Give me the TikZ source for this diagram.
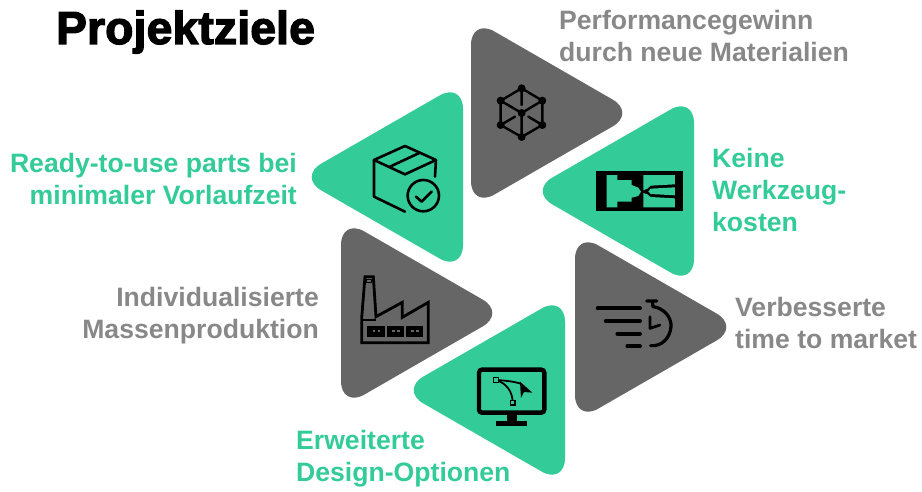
\documentclass[tikz,border=0pt]{standalone}
\usepackage{fontspec}
\setmainfont{Liberation Sans}
\newfontfamily\ttlfont[UprightFont=* Bold,FakeBold=3,LetterSpace=0.6]{Liberation Sans}
\definecolor{grn}{HTML}{33CC99}
\definecolor{drk}{HTML}{666666}
\definecolor{txg}{HTML}{888888}
\tikzset{
  tri/.style={rounded corners=27pt},
  lbl/.style={font=\bfseries\fontsize{26.6}{32}\selectfont,inner sep=0pt},
  ico/.style={line width=2.4pt,line cap=round,line join=round,draw=black},
  crop/.style={shift={#1},x=0.3333pt,y=-0.3333pt}
}
\begin{document}
\begin{tikzpicture}[x=1pt,y=-1pt]
\useasboundingbox (0,0) rectangle (922,491);
% triangles
\fill[drk,tri] (471,18) -- (636,113) -- (471,208) -- cycle;
\fill[grn,tri] (694,96) -- (694,286) -- (529,191) -- cycle;
\fill[drk,tri] (575,232) -- (740,327) -- (575,422) -- cycle;
\fill[grn,tri] (565,295) -- (565,485) -- (400,390) -- cycle;
\fill[drk,tri] (341,218) -- (506,313) -- (341,408) -- cycle;
\fill[grn,tri] (463,82) -- (463,272) -- (298,177) -- cycle;
% title
\node[inner sep=0pt,anchor=west] (title) at (56,32) {\ttlfont\fontsize{46}{50}\selectfont Projektziele};
% labels
\node[lbl,text=txg,align=left,anchor=west] (perf) at (559,36) {Performancegewinn\\durch neue Materialien};
\node[lbl,text=grn,align=left,anchor=west] (keine) at (712,190) {Keine\\Werkzeug-\\kosten};
\node[lbl,text=txg,align=left,anchor=west] (time) at (735,323) {Verbesserte\\time to market};
\node[lbl,text=grn,align=left,anchor=west] (design) at (296,459) {Erweiterte\\Design-Optionen};
\node[lbl,text=txg,align=right,anchor=east] (indiv) at (319,316) {Individualisierte\\Massenproduktion};
\node[lbl,text=grn,align=right,anchor=east] (ready) at (297,179) {Ready-to-use parts bei\\minimaler Vorlaufzeit};
% cube icon
\begin{scope}[crop={(340,20)}]
\draw[ico] (545,205)--(607,242)--(607,315)--(545,351)--(482,315)--(482,242)--cycle;
\draw[ico] (482,242)--(545,279)--(607,242) (545,279)--(545,351);
\draw[ico] (545,205)--(545,255) (482,315)--(525,290) (607,315)--(565,290);
\foreach \p in {(545,205),(607,242),(607,315),(545,351),(482,315),(482,242),(545,279)}
  \fill \p circle[radius=12];
% box icon
\draw[ico,line width=2.6pt] (285,470)--(288,420)--(195,378)--(102,420)--(195,463)--(288,420);
\draw[ico,line width=2.6pt] (102,420)--(102,530)--(195,575);
\draw[ico,line width=2.6pt] (150,440)--(240,398);
\draw[ico,line width=2.6pt] (250,527) circle[radius=47];
\draw[ico,line width=2.6pt] (228,530)--(245,545)--(275,515);
\end{scope}
% machine icon
\begin{scope}[crop={(560,150)}]
\fill[black] (109,63) rectangle (370,183);
\fill[grn] (140,75)--(172,75)--(172,90)--(215,90)--(215,105)--(235,113)--(243,125)--(235,138)--(215,143)--(215,155)--(172,155)--(172,172)--(140,172)--cycle;
\fill[grn] (250,75)--(345,75)--(345,103)--(272,107)--(262,116)--(250,121)--cycle;
\fill[grn] (272,116)--(345,112)--(345,136)--(272,132)--(265,124)--cycle;
\fill[grn] (250,129)--(262,133)--(272,141)--(345,145)--(345,172)--(250,172)--cycle;
% stopwatch icon
\draw[ico,line width=3.8pt] (113,475)--(240,475) (137,513)--(240,513) (172,551)--(240,551) (202,589)--(240,589);
\draw[ico,line width=3.2pt] (260,453)--(290,453) (277,453)--(279,470);
\draw[ico,line width=3.2pt] (279,470) .. controls (315,475) and (335,505) .. (333,530) .. controls (330,565) and (305,590) .. (272,587);
\draw[ico,line width=2.8pt] (270,500)--(270,535)--(300,525);
\end{scope}
% factory and monitor icons
\begin{scope}[crop={(340,260)}]
\draw[ico,line width=2.8pt,line cap=butt,line join=miter] (65,248)--(65,175)--(75,50)--(100,50)--(108,170)--(187,127)--(187,172)--(265,127)--(265,248)--cycle;
\draw[ico,line width=1.6pt,line cap=butt] (65,180)--(108,180);
\draw[ico,line width=1.4pt,line cap=butt] (80,58) rectangle (95,68);
\foreach \x in {82,140,197}{
  \fill (\x,197) rectangle ++(53,33);
  \fill[drk] (\x+17,209) rectangle ++(7,7);
  \fill[drk] (\x+32,209) rectangle ++(7,7);
}
\draw[line width=4.4pt,rounded corners=3pt] (417,329) rectangle (613,458);
\fill (500,460) rectangle (530,485);
\fill (468,483) rectangle (560,497);
\draw[line width=1.8pt] (468,360) .. controls (500,362) and (525,365) .. (545,372);
\draw[line width=1.8pt] (518,428) .. controls (518,395) and (500,370) .. (468,360);
\draw[line width=1.4pt,fill=grn] (461,353) rectangle (475,367);
\draw[line width=1.4pt,fill=grn] (511,421) rectangle (525,435);
\fill (540,365)--(577,398)--(552,396)--(543,414)--cycle;
\end{scope}
\end{tikzpicture}
\end{document}
